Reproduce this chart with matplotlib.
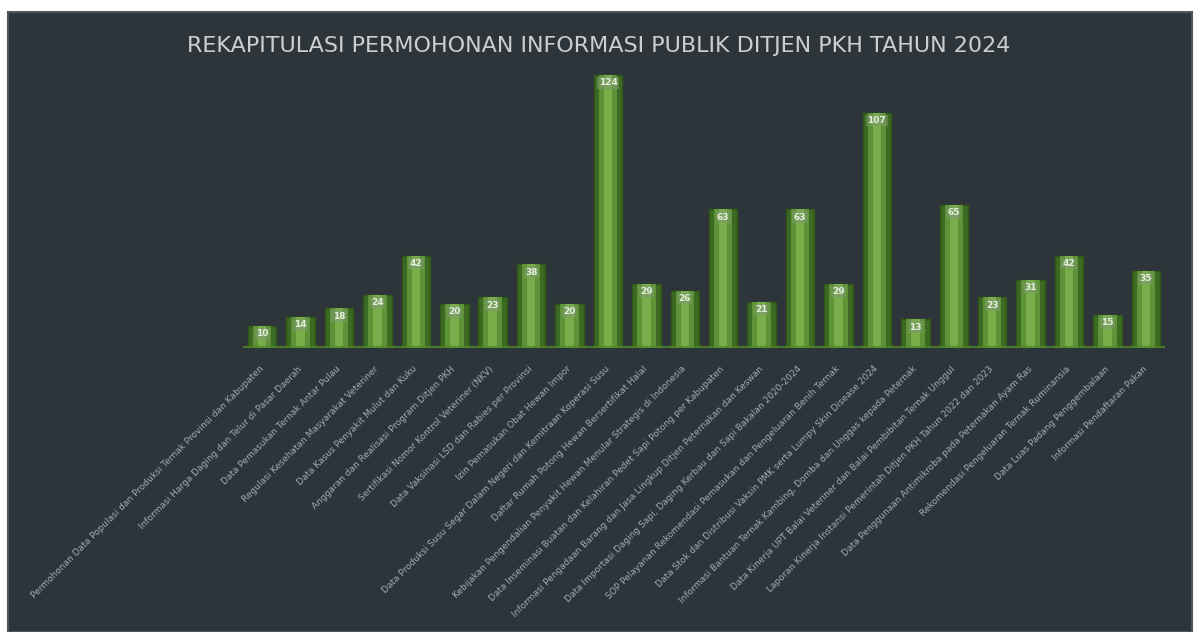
import matplotlib
matplotlib.use("Agg")
import matplotlib.pyplot as plt
from matplotlib.patches import Rectangle

# Jenis informasi yang dimohonkan dan jumlah permohonan
categories = [
    "Permohonan Data Populasi dan Produksi Ternak Provinsi dan Kabupaten",
    "Informasi Harga Daging dan Telur di Pasar Daerah",
    "Data Pemasukan Ternak Antar Pulau",
    "Regulasi Kesehatan Masyarakat Veteriner",
    "Data Kasus Penyakit Mulut dan Kuku",
    "Anggaran dan Realisasi Program Ditjen PKH",
    "Sertifikasi Nomor Kontrol Veteriner (NKV)",
    "Data Vaksinasi LSD dan Rabies per Provinsi",
    "Izin Pemasukan Obat Hewan Impor",
    "Data Produksi Susu Segar Dalam Negeri dan Kemitraan Koperasi Susu",
    "Daftar Rumah Potong Hewan Bersertifikat Halal",
    "Kebijakan Pengendalian Penyakit Hewan Menular Strategis di Indonesia",
    "Data Inseminasi Buatan dan Kelahiran Pedet Sapi Potong per Kabupaten",
    "Informasi Pengadaan Barang dan Jasa Lingkup Ditjen Peternakan dan Keswan",
    "Data Importasi Daging Sapi, Daging Kerbau dan Sapi Bakalan 2020-2024",
    "SOP Pelayanan Rekomendasi Pemasukan dan Pengeluaran Benih Ternak",
    "Data Stok dan Distribusi Vaksin PMK serta Lumpy Skin Disease 2024",
    "Informasi Bantuan Ternak Kambing, Domba dan Unggas kepada Peternak",
    "Data Kinerja UPT Balai Veteriner dan Balai Pembibitan Ternak Unggul",
    "Laporan Kinerja Instansi Pemerintah Ditjen PKH Tahun 2022 dan 2023",
    "Data Penggunaan Antimikroba pada Peternakan Ayam Ras",
    "Rekomendasi Pengeluaran Ternak Ruminansia",
    "Data Luas Padang Penggembalaan",
    "Informasi Pendaftaran Pakan",
]
counts = [10, 14, 18, 24, 42, 20, 23, 38, 20, 124, 29, 26,
          63, 21, 63, 29, 107, 13, 65, 23, 31, 42, 15, 35]

title = "REKAPITULASI PERMOHONAN INFORMASI PUBLIK DITJEN PKH TAHUN 2024"

BG = "#2e353a"

fig = plt.figure(figsize=(11.97, 6.32), dpi=100, facecolor="white")
# dark panel behind the chart
fig.patches.append(Rectangle((8 / 1197, 0), 1184 / 1197, 1 - 12 / 632,
                             transform=fig.transFigure, facecolor=BG,
                             edgecolor="#50575c", linewidth=1.5, zorder=-10))

ax = fig.add_axes([0.203, 0.4494, 0.7703, 0.4525])
ax.set_facecolor("none")

x = list(range(len(counts)))
# outer darker body and lighter centre stripe give a rounded look
ax.bar(x, counts, width=0.74, color="#3d6a22", edgecolor="#2f5518", linewidth=1, zorder=2)
ax.bar(x, counts, width=0.48, color="#5e9236", linewidth=0, zorder=3)
ax.bar(x, counts, width=0.22, color="#78ad4a", linewidth=0, zorder=4)
ax.axhline(0, color="#4f8a2c", linewidth=3, alpha=0.8, zorder=5)

for xi, v in zip(x, counts):
    ax.text(xi, v - 1.5, str(v), ha="center", va="top", fontsize=6.5,
            fontweight="bold", color="#e6eedf", zorder=6,
            bbox=dict(boxstyle="square,pad=0.15", facecolor="#7d9a70",
                      edgecolor="none", alpha=0.55))

ax.set_xlim(-0.5, len(counts) - 0.5)
ax.set_ylim(0, 130)
ax.set_xticks(x)
ax.set_xticklabels(categories, rotation=45, ha="right", va="center",
                   rotation_mode="anchor", fontsize=6.5, color="#a3abb0")
ax.tick_params(axis="x", length=0, pad=14)
ax.set_yticks([])
for s in ax.spines.values():
    s.set_visible(False)

fig.text(0.5, 0.928, title, ha="center", va="center", fontsize=16,
         color="#c9ced1")

fig.savefig("out.png", dpi=100, facecolor=fig.get_facecolor())
